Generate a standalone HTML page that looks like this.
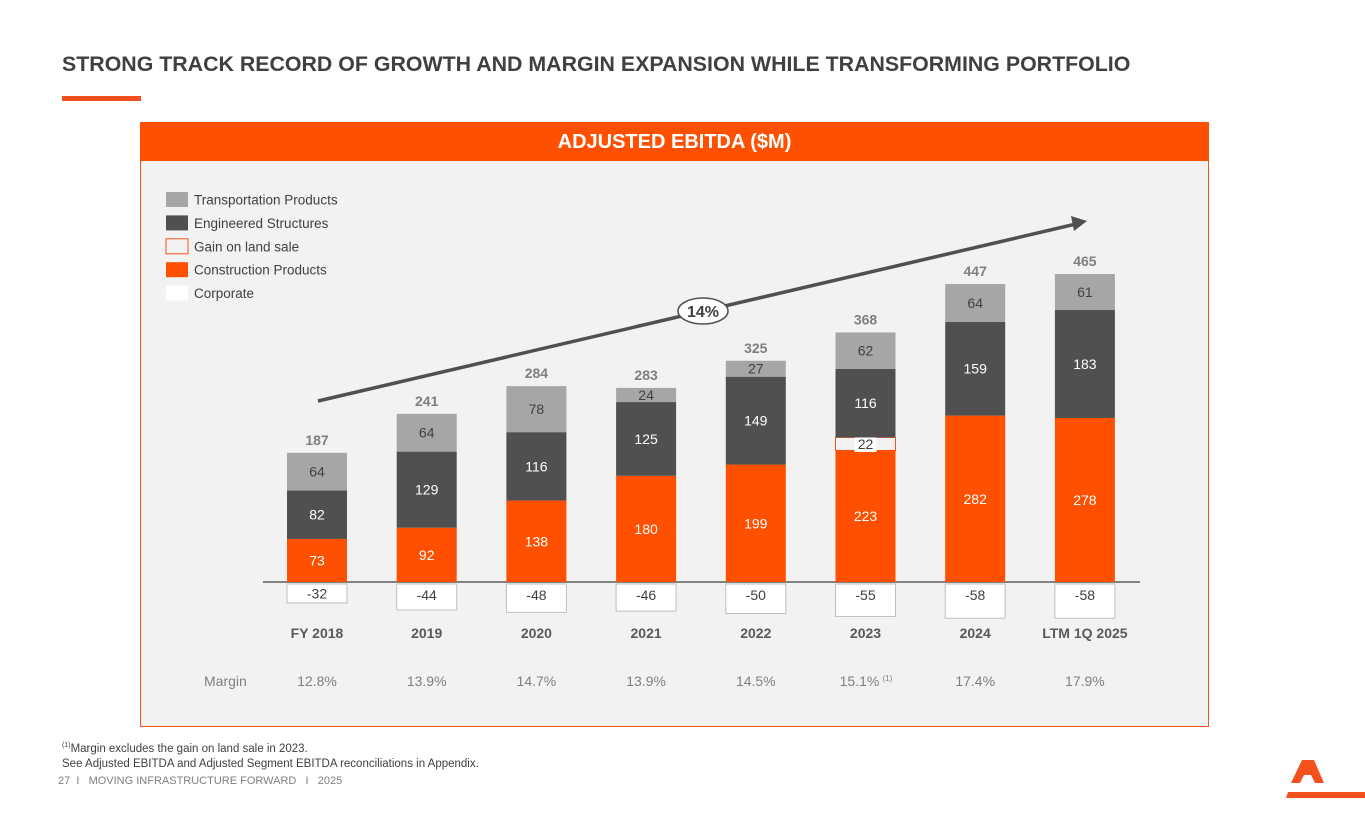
<!DOCTYPE html>
<html><head><meta charset="utf-8"><style>
body{margin:0;width:1365px;height:829px;background:#fff;font-family:"Liberation Sans",sans-serif;overflow:hidden;position:relative}
.t{position:absolute;white-space:nowrap}
</style></head><body>
<div class="t" style="left:62px;top:52px;font-size:21.35px;font-weight:bold;color:#404040;letter-spacing:0px">STRONG TRACK RECORD OF GROWTH AND MARGIN EXPANSION WHILE TRANSFORMING PORTFOLIO</div>
<div style="position:absolute;left:62px;top:96px;width:79px;height:5px;background:#f4511e"></div>
<div style="position:absolute;left:140px;top:122px;width:1067px;height:603px;background:#f2f2f2;border:1px solid #f4511e"></div>
<div style="position:absolute;left:140px;top:122px;width:1069px;height:39px;background:#fe5000;color:#fff;font-weight:bold;font-size:20px;text-align:center;line-height:41px">ADJUSTED EBITDA ($M)</div>
<svg id="chart" width="1365" height="829" style="position:absolute;left:0;top:0" font-family="Liberation Sans, sans-serif"></svg>
<div class="t" style="left:62px;top:738px;font-size:11.5px;color:#404040;line-height:15px"><sup style="font-size:7px">(1)</sup>Margin excludes the gain on land sale in 2023.<br>See Adjusted EBITDA and Adjusted Segment EBITDA reconciliations in Appendix.</div>
<div class="t" style="left:58px;top:775px;font-size:11px;color:#7f7f7f">27 &nbsp;I &nbsp;&nbsp;MOVING INFRASTRUCTURE FORWARD &nbsp;&nbsp;I &nbsp;&nbsp;2025</div>
<svg width="90" height="50" style="position:absolute;left:1280px;top:752px">
<polygon points="22,8 34,8 44,31 35,31 31,23 24,23 20,31 11,31" fill="#f4511e"/>
<polygon points="8,40 86,40 85,46 6,46" fill="#f4511e"/>
</svg>
<script>
const categories=["FY 2018","2019","2020","2021","2022","2023","2024","LTM 1Q 2025"];
const construction=[73,92,138,180,199,223,282,278];
const landSale=[0,0,0,0,0,22,0,0];
const engineered=[82,129,116,125,149,116,159,183];
const transport=[64,64,78,24,27,62,64,61];
const corporate=[-32,-44,-48,-46,-50,-55,-58,-58];
const totals=[187,241,284,283,325,368,447,465];
const margins=["12.8%","13.9%","14.7%","13.9%","14.5%","15.1%","17.4%","17.9%"];
const cagr="14%";
const svg=document.getElementById('chart');const NS="http://www.w3.org/2000/svg";
const base=582,k=0.59,x0=317,step=109.7,bw=60;
const X=i=>x0+i*step, Y=v=>base-v*k;
function el(t,a,txt){const e=document.createElementNS(NS,t);for(const n in a)e.setAttribute(n,a[n]);if(txt!==undefined)e.textContent=txt;svg.appendChild(e);return e;}
const leg=[["Transportation Products","#a6a6a6",""],["Engineered Structures","#505050",""],["Gain on land sale","#f2f2f2","#f4511e"],["Construction Products","#fe5000",""],["Corporate","#ffffff",""]];
leg.forEach((l,i)=>{const y=192+i*23.4;
const r=el('rect',{x:166,y:y,width:22,height:15,fill:l[1],stroke:l[2]||'none'});

const t=el('text',{x:194,y:y+12.5,'font-size':13.5,fill:'#404040'},l[0]);
});
el('line',{x1:263,y1:582,x2:1140,y2:582,stroke:'#404040','stroke-width':1.3});
categories.forEach((c,i)=>{const cx=X(i),l=cx-bw/2;let acc=0;
const segs=[[construction[i],'#fe5000','#fff','none','construction'],[landSale[i],'#f2f2f2','#404040','#f4511e','land-sale'],[engineered[i],'#505050','#fff','none','engineered'],[transport[i],'#a6a6a6','#404040','none','transport']];
segs.forEach(s=>{if(!s[0])return;const y1=Y(acc+s[0]),y2=Y(acc);
const r=el('rect',{x:l,y:y1,width:bw,height:y2-y1,fill:s[1],stroke:s[3]});

if(s[4]=='land-sale'){el('rect',{x:cx-11,y:(y1+y2)/2-8,width:22,height:16,fill:'#fff'});}
const t=el('text',{x:cx,y:(y1+y2)/2+5,'text-anchor':'middle','font-size':14,fill:s[2]},s[0]);

acc+=s[0];});
const tt=el('text',{x:cx,y:Y(acc)-8,'text-anchor':'middle','font-size':14,'font-weight':'bold',fill:'#7f7f7f'},totals[i]);

const ch=-corporate[i]*k;
const cr=el('rect',{x:l,y:base+2,width:bw,height:ch,fill:'#fff',stroke:'#bfbfbf'});

const ct=el('text',{x:cx,y:base+2+Math.min(ch,22)/2+5,'text-anchor':'middle','font-size':14,fill:'#404040'},corporate[i]);

const cl=el('text',{x:cx,y:638,'text-anchor':'middle','font-size':14,'font-weight':'bold',fill:'#595959'},c);

const m=el('text',{x:cx+(i==5?-6:0),y:686,'text-anchor':'middle','font-size':14,fill:'#7f7f7f'},margins[i]);

if(i==5){el('text',{x:cx+17,y:681,'font-size':8,fill:'#7f7f7f'},'(1)');}
});
const ml=el('text',{x:204,y:686,'font-size':14,fill:'#7f7f7f'},'Margin');

const ar=el('line',{x1:318,y1:401,x2:1076,y2:224,stroke:'#505050','stroke-width':3.5});

el('polygon',{points:'1087,221 1071,216 1074,231',fill:'#505050'});
const ce=el('ellipse',{cx:703,cy:311,rx:25,ry:13,fill:'#fff',stroke:'#505050','stroke-width':1.5});

el('text',{x:703,y:317,'text-anchor':'middle','font-size':16,'font-weight':'bold',fill:'#404040'},cagr);
</script>
</body></html>
